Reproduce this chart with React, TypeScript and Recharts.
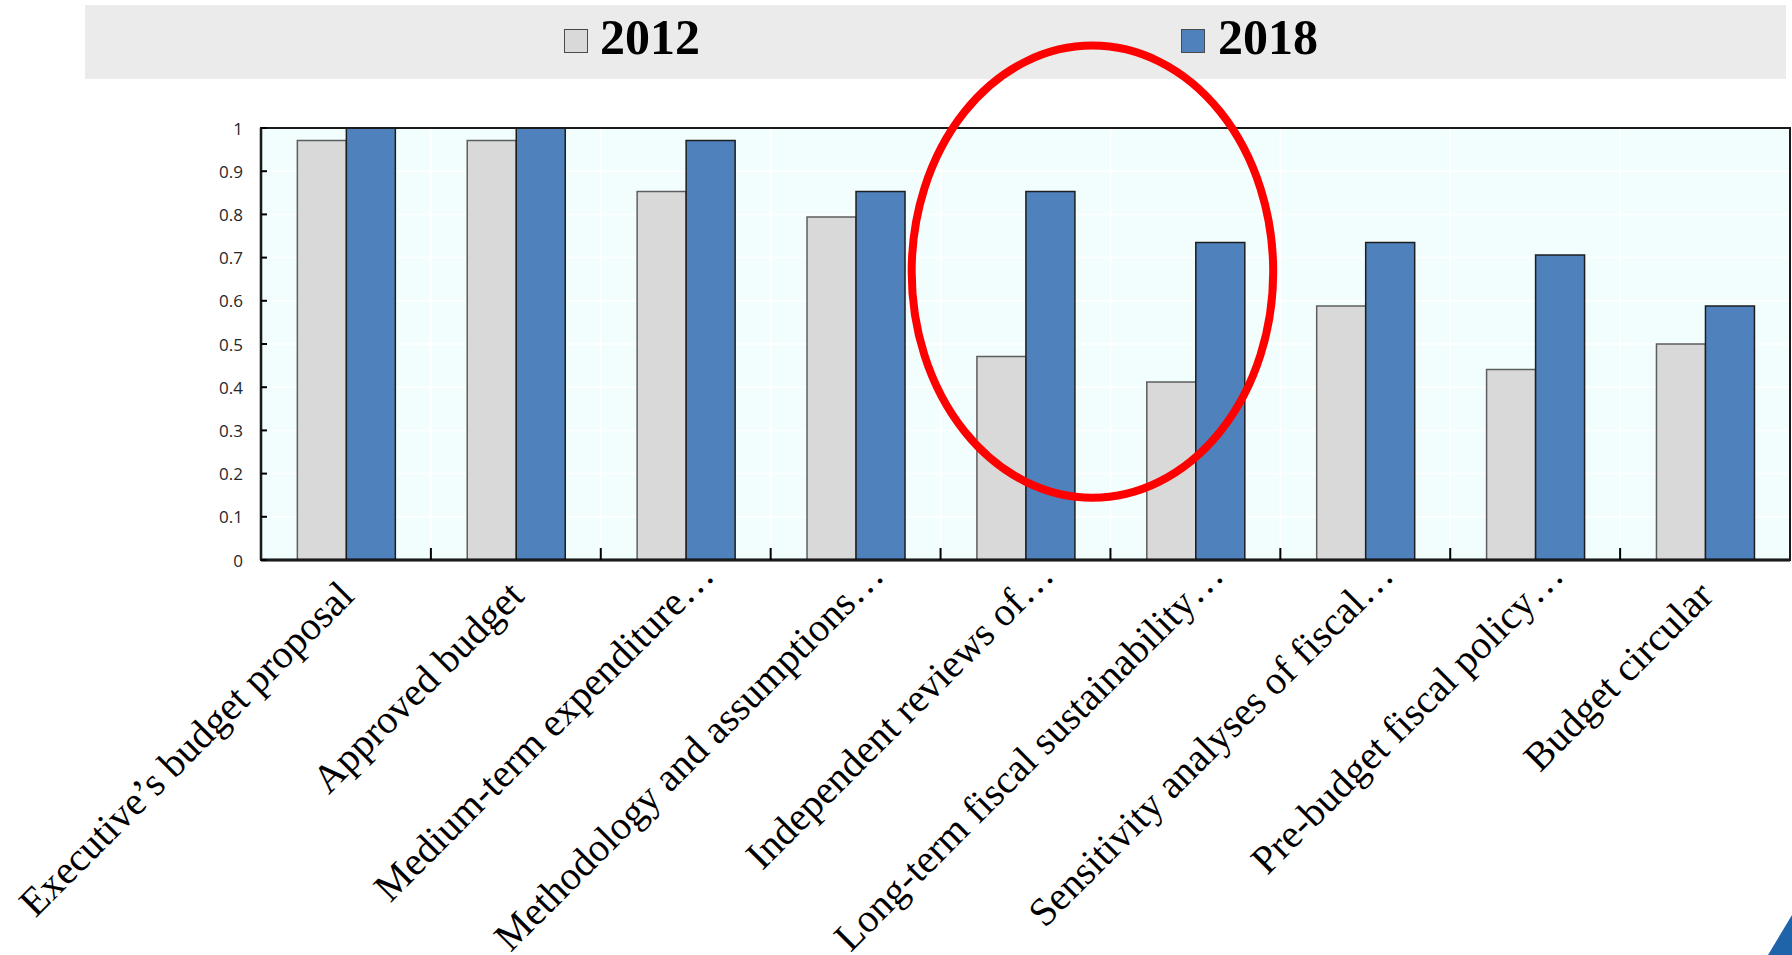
import React from 'react';
import { BarChart, Bar, XAxis, YAxis, CartesianGrid, ReferenceArea } from 'recharts';

// ---------- data ----------
const CATEGORIES = [
  'Executive\u2019s budget proposal',
  'Approved budget',
  'Medium-term expenditure\u2026',
  'Methodology and assumptions\u2026',
  'Independent reviews of\u2026',
  'Long-term fiscal sustainability\u2026',
  'Sensitivity analyses of fiscal\u2026',
  'Pre-budget fiscal policy\u2026',
  'Budget circular',
];
const SERIES_NAMES = ['2012', '2018'];
const VALUES_2012 = [0.971, 0.971, 0.853, 0.794, 0.471, 0.412, 0.588, 0.441, 0.5];
const VALUES_2018 = [1.0, 1.0, 0.971, 0.853, 0.853, 0.735, 0.735, 0.706, 0.588];
const Y_TICKS = [0, 0.1, 0.2, 0.3, 0.4, 0.5, 0.6, 0.7, 0.8, 0.9, 1];
const HIGHLIGHT_FROM = CATEGORIES[4];
const HIGHLIGHT_TO = CATEGORIES[5];
const HIGHLIGHT_LOW = 0.135;
const HIGHLIGHT_HIGH = 1.2;

const SERIES_COLORS = ['#D9D9D9', '#4F81BD'];
const SERIES_STROKES = ['#5E5E5E', '#1E1E1E'];

const data = CATEGORIES.map((name, i) => ({
  name,
  s2012: VALUES_2012[i],
  s2018: VALUES_2018[i],
}));

// ---------- layout ----------
const W = 1792;
const H = 955;
const MARGIN = { top: 128, right: 2, bottom: 0, left: 0 };
const Y_AXIS_W = 261;
const X_AXIS_H = 395;
const PLOT_LEFT = MARGIN.left + Y_AXIS_W;
const PLOT_W = W - PLOT_LEFT - MARGIN.right;
const PLOT_BOTTOM = H - MARGIN.bottom - X_AXIS_H;
const BAND = PLOT_W / CATEGORIES.length;

const XTick = (props: any) => {
  const { x, payload, index } = props;
  const label: string = String(payload.value);
  const ell = label.endsWith('\u2026');
  return (
    <g>
      {index > 0 && (
        <line
          x1={x - BAND / 2}
          x2={x - BAND / 2}
          y1={PLOT_BOTTOM}
          y2={PLOT_BOTTOM - 12}
          stroke="#000"
          strokeWidth={2}
        />
      )}
      <g transform={`translate(${x + 10},${PLOT_BOTTOM + 38}) rotate(-45)`}>
        <text
          x={ell ? 29 : 0}
          y={0}
          textAnchor="end"
          fontFamily="'Liberation Serif', 'Times New Roman', serif"
          fontSize={40}
          fill="#000"
        >
          {label}
        </text>
      </g>
    </g>
  );
};

const YTick = (props: any) => {
  const { x, y, payload } = props;
  const v = Number(payload.value);
  const txt = String(Number(v.toFixed(1)));
  return (
    <g>
      <line x1={PLOT_LEFT} x2={PLOT_LEFT + 6} y1={y} y2={y} stroke="#000" strokeWidth={2} />
      <text
        x={x}
        y={y}
        textAnchor="end"
        dominantBaseline="central"
        fontFamily="'Open Sans', 'Noto Sans', sans-serif"
        fontSize={17}
        fill="#262626"
      >
        {txt}
      </text>
    </g>
  );
};

const HighlightEllipse = (props: any) => {
  const { x, y, width, height } = props;
  if ([x, y, width, height].some((n) => typeof n !== 'number' || isNaN(n))) return <g />;
  const cx = x + width * 0.447;
  const cy = y + height / 2;
  const rx = width * 0.532;
  const ry = height / 2 - 4;
  return <ellipse cx={cx} cy={cy} rx={rx} ry={ry} fill="none" stroke="#FF0000" strokeWidth={8} />;
};

const Legend = () => {
  const items = [
    { name: SERIES_NAMES[0], color: SERIES_COLORS[0], sw: 479, tx: 515 },
    { name: SERIES_NAMES[1], color: SERIES_COLORS[1], sw: 1096, tx: 1133 },
  ];
  return (
    <div
      style={{
        position: 'absolute',
        left: 85,
        top: 5,
        width: 1701,
        height: 74,
        background: '#EBEBEB',
      }}
    >
      {items.map((it) => (
        <React.Fragment key={it.name}>
          <div
            style={{
              position: 'absolute',
              left: it.sw,
              top: 24,
              width: 22,
              height: 22,
              background: it.color,
              border: '1.5px solid #4A4A4A',
            }}
          />
          <span
            style={{
              position: 'absolute',
              left: it.tx,
              top: 8,
              lineHeight: '49px',
              fontSize: 50,
              fontWeight: 'bold',
              fontFamily: "'Liberation Serif', 'Times New Roman', serif",
              color: '#000',
              whiteSpace: 'nowrap',
            }}
          >
            {it.name}
          </span>
        </React.Fragment>
      ))}
    </div>
  );
};

export default function App() {
  return (
    <div style={{ position: 'absolute', left: 0, top: 0, width: W, height: H, overflow: 'hidden', background: '#fff' }}>
      <Legend />
      <div style={{ position: 'absolute', left: 0, top: 0 }}>
        <BarChart width={W} height={H} data={data} margin={MARGIN} barCategoryGap="21.4%" barGap={0}>
          <CartesianGrid
            fill="#F2FEFE"
            stroke="#FFFFFF"
            strokeWidth={1.5}
            verticalCoordinatesGenerator={({ offset }: any) =>
              CATEGORIES.map((_, i) => offset.left + (i * offset.width) / CATEGORIES.length)
            }
          />
          <XAxis
            dataKey="name"
            interval={0}
            height={X_AXIS_H}
            tickLine={false}
            axisLine={{ stroke: '#000', strokeWidth: 3 }}
            tick={<XTick />}
          />
          <YAxis
            domain={[0, 1]}
            ticks={Y_TICKS}
            width={Y_AXIS_W}
            tickLine={false}
            tickMargin={12}
            axisLine={{ stroke: '#000', strokeWidth: 2.5 }}
            tick={<YTick />}
          />
          <Bar
            dataKey="s2012"
            name={SERIES_NAMES[0]}
            fill={SERIES_COLORS[0]}
            stroke={SERIES_STROKES[0]}
            strokeWidth={1.5}
            isAnimationActive={false}
          />
          <Bar
            dataKey="s2018"
            name={SERIES_NAMES[1]}
            fill={SERIES_COLORS[1]}
            stroke={SERIES_STROKES[1]}
            strokeWidth={1.5}
            isAnimationActive={false}
          />
          <ReferenceArea
            y1={0}
            y2={1}
            fill="none"
            stroke="#1A1A1A"
            strokeWidth={2}
            ifOverflow="visible"
            zIndex={900}
          />
          <ReferenceArea
            x1={HIGHLIGHT_FROM}
            x2={HIGHLIGHT_TO}
            y1={HIGHLIGHT_LOW}
            y2={HIGHLIGHT_HIGH}
            ifOverflow="visible"
            shape={HighlightEllipse}
            zIndex={1000}
          />
        </BarChart>
      </div>
      <svg
        width={30}
        height={42}
        style={{ position: 'absolute', left: W - 30, top: H - 42 }}
      >
        <polygon points="30,2 6,42 30,42" fill="#1F64A8" />
      </svg>
    </div>
  );
}
